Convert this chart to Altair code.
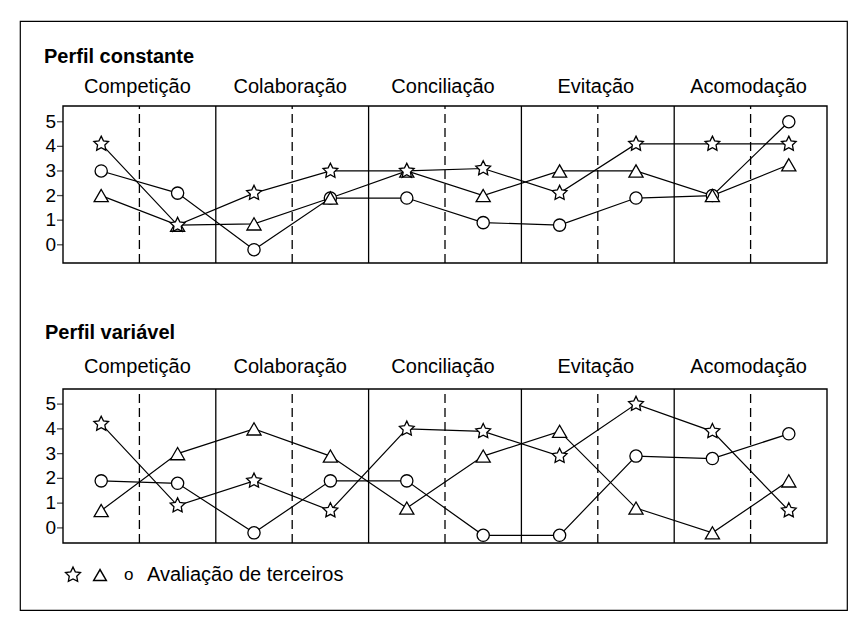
import altair as alt
import pandas as pd

# ---------------- data ----------------
positions = [1, 2, 3, 4, 5, 6, 7, 8, 9, 10]
categories = ["Competição", "Colaboração", "Conciliação", "Evitação", "Acomodação"]
group_centers = [1.5, 3.5, 5.5, 7.5, 9.5]
solid_separators = [2.5, 4.5, 6.5, 8.5]
dashed_separators = [1.5, 3.5, 5.5, 7.5, 9.5]
y_ticks = [0, 1, 2, 3, 4, 5]

panel_titles = ["Perfil constante", "Perfil variável"]
legend_label = "Avaliação de terceiros"

# Perfil constante
const_star = [4.1, 0.8, 2.1, 3.0, 3.0, 3.1, 2.1, 4.1, 4.1, 4.1]
const_triangle = [2.0, 0.8, 0.85, 1.9, 3.0, 2.0, 3.0, 3.0, 2.0, 3.25]
const_circle = [3.0, 2.1, -0.2, 1.9, 1.9, 0.9, 0.8, 1.9, 2.0, 5.0]

# Perfil variável
var_star = [4.2, 0.9, 1.9, 0.7, 4.0, 3.9, 2.9, 5.0, 3.9, 0.7]
var_triangle = [0.7, 3.0, 4.0, 2.9, 0.8, 2.9, 3.9, 0.8, -0.2, 1.9]
var_circle = [1.9, 1.8, -0.2, 1.9, 1.9, -0.3, -0.3, 2.9, 2.8, 3.8]

FONT = "Liberation Sans"
X_SCALE = alt.Scale(domain=[0.5, 10.5], range=[43, 807])

# five-pointed open star as a custom Vega symbol path (unit box -1..1)
STAR = ("M0,-1L0.29,-0.4L0.951,-0.309L0.47,0.153L0.588,0.809L0,0.49"
        "L-0.588,0.809L-0.47,0.153L-0.951,-0.309L-0.29,-0.4Z")


def panel(star, tri, circ, ydomain, yrange, title, title_x, title_y, label_dy):
    ys = alt.Scale(domain=ydomain, range=yrange)
    df = pd.DataFrame(
        {
            "x": positions * 3,
            "v": star + tri + circ,
            "s": ["star"] * 10 + ["triangle"] * 10 + ["circle"] * 10,
        }
    )
    X = alt.X("x:Q", scale=X_SCALE, axis=None)
    Y = alt.Y("v:Q", scale=ys, axis=None)

    frame_df = pd.DataFrame({"x1": [0.5], "x2": [10.5], "y1": [ydomain[0]], "y2": [ydomain[1]]})
    frame = alt.Chart(frame_df).mark_rect(
        fillOpacity=0, stroke="black", strokeWidth=1.4
    ).encode(
        x=alt.X("x1:Q", scale=X_SCALE, axis=None), x2="x2:Q",
        y=alt.Y("y1:Q", scale=ys, axis=None), y2="y2:Q",
    )

    sep_s = pd.DataFrame({"x": solid_separators, "y1": ydomain[0], "y2": ydomain[1]})
    solid = alt.Chart(sep_s).mark_rule(color="black", strokeWidth=1.3).encode(
        x=alt.X("x:Q", scale=X_SCALE, axis=None),
        y=alt.Y("y1:Q", scale=ys, axis=None), y2="y2:Q",
    )
    sep_d = pd.DataFrame({"x": dashed_separators, "y1": ydomain[0], "y2": ydomain[1]})
    dashed = alt.Chart(sep_d).mark_rule(
        color="black", strokeWidth=1.3, strokeDash=[9, 5]
    ).encode(
        x=alt.X("x:Q", scale=X_SCALE, axis=None),
        y=alt.Y("y1:Q", scale=ys, axis=None), y2="y2:Q",
    )

    tick_df = pd.DataFrame({"x": 0.5, "t": y_ticks})
    ticks = alt.Chart(tick_df).mark_tick(
        orient="horizontal", size=6, thickness=1.3, xOffset=-3, color="black"
    ).encode(
        x=alt.X("x:Q", scale=X_SCALE, axis=None),
        y=alt.Y("t:Q", scale=ys, axis=None),
    )
    tick_labels = alt.Chart(tick_df).mark_text(
        align="right", baseline="middle", dx=-7, fontSize=19, font=FONT, color="black"
    ).encode(
        x=alt.X("x:Q", scale=X_SCALE, axis=None),
        y=alt.Y("t:Q", scale=ys, axis=None),
        text=alt.Text("t:Q"),
    )

    lab_df = pd.DataFrame({"x": group_centers, "y": ydomain[1], "c": categories})
    group_labels = alt.Chart(lab_df).mark_text(
        align="center", baseline="alphabetic", dy=label_dy, dx=-2,
        fontSize=20, font=FONT, color="black",
    ).encode(
        x=alt.X("x:Q", scale=X_SCALE, axis=None),
        y=alt.Y("y:Q", scale=ys, axis=None),
        text="c:N",
    )

    ttl = alt.Chart(pd.DataFrame({"t": [title]})).mark_text(
        align="left", baseline="alphabetic", fontSize=20, fontWeight="bold",
        font=FONT, color="black",
    ).encode(x=alt.value(title_x), y=alt.value(title_y), text="t:N")

    lines = alt.Chart(df).mark_line(color="black", strokeWidth=1.2).encode(
        x=X, y=Y, detail="s:N", order="x:Q"
    )
    layers = [frame, solid, dashed, ticks, tick_labels, group_labels, ttl, lines]
    for key, shape, size in [("circle", "circle", 150), ("triangle", "triangle-up", 200),
                             ("star", STAR, 240)]:
        layers.append(
            alt.Chart(df[df["s"] == key]).mark_point(
                shape=shape, size=size, filled=True, fill="white",
                stroke="black", strokeWidth=1.3, opacity=1,
            ).encode(x=X, y=Y)
        )
    return layers


top = panel(const_star, const_triangle, const_circle, [-0.74, 5.64], [242, 85],
            panel_titles[0], 24, 42, -13)
bottom = panel(var_star, var_triangle, var_circle, [-0.61, 5.61], [522, 368],
               panel_titles[1], 25, 318, -16)

# legend line (star, triangle, o + label)
leg_star = alt.Chart(pd.DataFrame({"k": [0]})).mark_point(
    shape=STAR, size=250, filled=True, fill="white", stroke="black", strokeWidth=1.3, opacity=1
).encode(x=alt.value(53), y=alt.value(554))
leg_tri = alt.Chart(pd.DataFrame({"k": [0]})).mark_point(
    shape="triangle-up", size=160, filled=True, fill="white", stroke="black", strokeWidth=1.5, opacity=1
).encode(x=alt.value(80), y=alt.value(554))
leg_o = alt.Chart(pd.DataFrame({"t": ["o"]})).mark_text(
    align="left", baseline="alphabetic", fontSize=17, font=FONT, color="black"
).encode(x=alt.value(104), y=alt.value(559), text="t:N")
leg_text = alt.Chart(pd.DataFrame({"t": [legend_label]})).mark_text(
    align="left", baseline="alphabetic", fontSize=20, font=FONT, color="black"
).encode(x=alt.value(127), y=alt.value(560), text="t:N")

chart = alt.layer(*top, *bottom, leg_star, leg_tri, leg_o, leg_text).resolve_scale(
    y="independent"
).properties(
    width=827,
    height=589,
    autosize=alt.AutoSizeParams(type="none"),
    padding={"left": 12, "top": 13, "right": 1, "bottom": 1},
).configure_view(stroke="black", strokeWidth=1.2)

chart.save("out.html", embed_options={"renderer": "svg", "actions": False})
